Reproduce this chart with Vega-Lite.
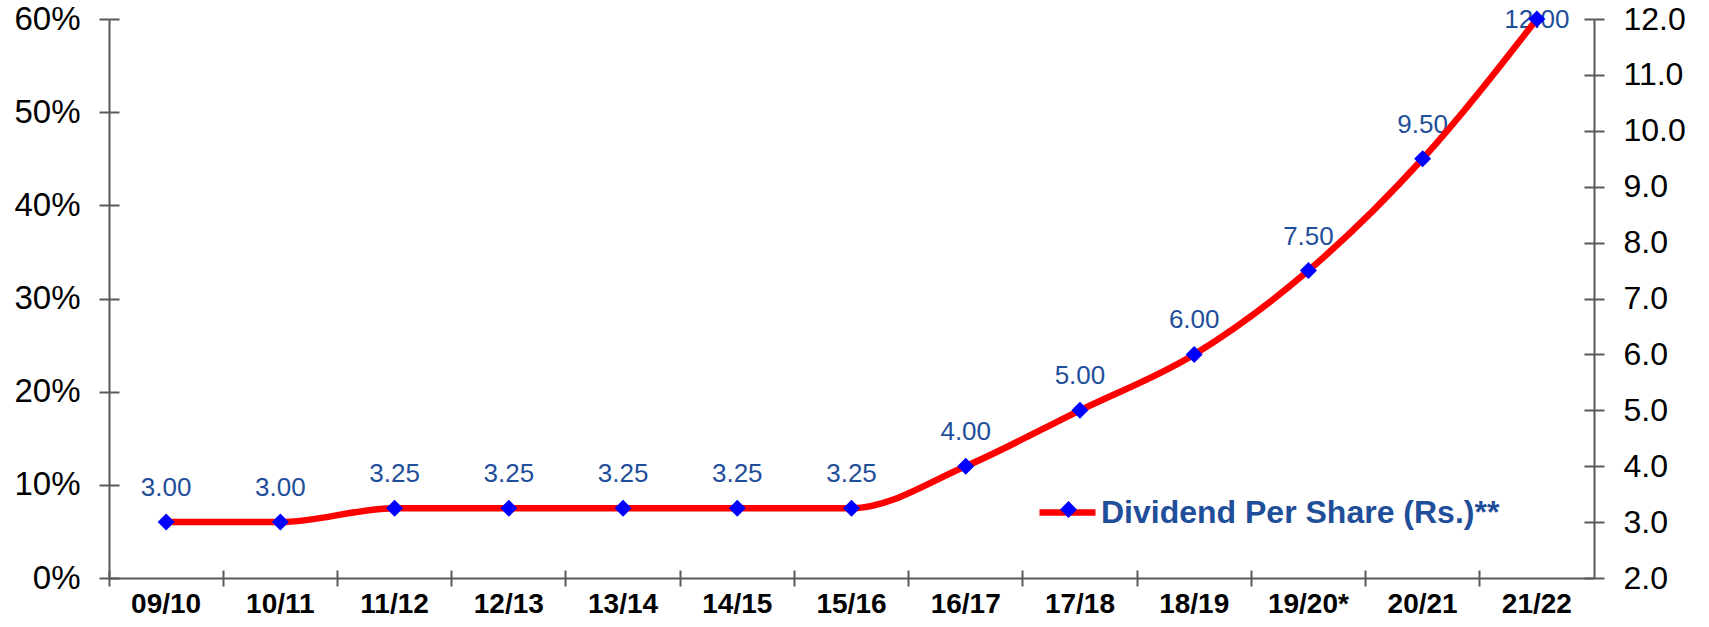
{
  "$schema": "https://vega.github.io/schema/vega-lite/v6.json",
  "autosize": "none",
  "width": 1485,
  "height": 559,
  "padding": {"left": 109, "top": 19, "right": 115, "bottom": 49},
  "background": "white",
  "config": {"view": {"stroke": null}, "font": "Liberation Sans"},
  "data": {
    "values": [
      {"year": "09/10", "dps": 3.00},
      {"year": "10/11", "dps": 3.00},
      {"year": "11/12", "dps": 3.25},
      {"year": "12/13", "dps": 3.25},
      {"year": "13/14", "dps": 3.25},
      {"year": "14/15", "dps": 3.25},
      {"year": "15/16", "dps": 3.25},
      {"year": "16/17", "dps": 4.00},
      {"year": "17/18", "dps": 5.00},
      {"year": "18/19", "dps": 6.00},
      {"year": "19/20*", "dps": 7.50},
      {"year": "20/21", "dps": 9.50},
      {"year": "21/22", "dps": 12.00}
    ]
  },
  "layer": [
    {
      "mark": {"type": "rule", "opacity": 0},
      "encoding": {
        "y": {
          "datum": 0,
          "type": "quantitative",
          "scale": {"domain": [0, 0.6], "nice": false, "zero": false},
          "axis": {
            "orient": "left",
            "title": null,
            "values": [0, 0.1, 0.2, 0.3, 0.4, 0.5, 0.6],
            "format": ".0%",
            "labelFontSize": 33,
            "labelColor": "#000000",
            "labelPadding": 19,
            "tickSize": 10,
            "tickWidth": 2,
            "tickColor": "#595959",
            "domainColor": "#595959",
            "domainWidth": 2,
            "grid": false
          }
        }
      }
    },
    {
      "mark": {"type": "rule", "opacity": 0},
      "encoding": {
        "y": {
          "datum": 0,
          "type": "quantitative",
          "scale": {"domain": [0, 0.6], "nice": false, "zero": false},
          "axis": {
            "orient": "left",
            "title": null,
            "values": [0, 0.1, 0.2, 0.3, 0.4, 0.5, 0.6],
            "labels": false,
            "domain": false,
            "tickSize": -10,
            "tickWidth": 2,
            "tickColor": "#595959",
            "grid": false
          }
        }
      }
    },
    {
      "mark": {"type": "rule", "opacity": 0},
      "encoding": {
        "y": {
          "datum": 2,
          "type": "quantitative",
          "scale": {"domain": [2, 12], "nice": false, "zero": false},
          "axis": {
            "orient": "right",
            "title": null,
            "values": [2, 3, 4, 5, 6, 7, 8, 9, 10, 11, 12],
            "labels": false,
            "domain": false,
            "tickSize": -10,
            "tickWidth": 2,
            "tickColor": "#595959",
            "grid": false
          }
        }
      }
    },
    {
      "mark": {"type": "rule", "opacity": 0},
      "encoding": {
        "x": {
          "field": "year",
          "type": "nominal",
          "sort": null,
          "scale": {"paddingInner": 0, "paddingOuter": 0},
          "axis": {
            "orient": "bottom",
            "title": null,
            "bandPosition": 0,
            "labels": false,
            "domain": false,
            "tickSize": -8,
            "tickWidth": 2,
            "tickColor": "#595959",
            "grid": false
          }
        }
      }
    },
    {
      "encoding": {
        "x": {
          "field": "year",
          "type": "nominal",
          "sort": null,
          "scale": {"paddingInner": 0, "paddingOuter": 0},
          "axis": {
            "orient": "bottom",
            "title": null,
            "labelAngle": 0,
            "bandPosition": 0,
            "labelFontSize": 28,
            "labelFontWeight": "bold",
            "labelColor": "#000000",
            "labelPadding": 4,
            "tickSize": 8,
            "tickWidth": 2,
            "tickColor": "#595959",
            "domainColor": "#595959",
            "domainWidth": 2,
            "grid": false
          }
        },
        "y": {
          "field": "dps",
          "type": "quantitative",
          "scale": {"domain": [2, 12], "nice": false, "zero": false},
          "axis": {
            "orient": "right",
            "title": null,
            "values": [2, 3, 4, 5, 6, 7, 8, 9, 10, 11, 12],
            "format": ".1f",
            "labelFontSize": 32,
            "labelColor": "#000000",
            "labelPadding": 19,
            "tickSize": 10,
            "tickWidth": 2,
            "tickColor": "#595959",
            "domainColor": "#595959",
            "domainWidth": 2,
            "grid": false
          }
        }
      },
      "layer": [
        {
          "transform": [{"filter": "datum.dps < 12"}],
          "mark": {"type": "text", "dy": -34, "fontSize": 26, "color": "#1F4E9A", "baseline": "middle", "align": "center"},
          "encoding": {"text": {"field": "dps", "type": "quantitative", "format": ".2f"}}
        },
        {
          "transform": [{"filter": "datum.dps >= 12"}],
          "mark": {"type": "text", "dy": 1, "fontSize": 26, "color": "#1F4E9A", "baseline": "middle", "align": "center"},
          "encoding": {"text": {"field": "dps", "type": "quantitative", "format": ".2f"}}
        },
        {
          "mark": {"type": "line", "strokeWidth": 6.5, "interpolate": "monotone", "strokeCap": "round", "strokeJoin": "round"},
          "encoding": {
            "color": {
              "datum": "Dividend Per Share (Rs.)**",
              "type": "nominal",
              "scale": {"range": ["#FF0000"]},
              "legend": {
                "title": null,
                "orient": "none",
                "legendX": 927,
                "legendY": 462,
                "padding": 0,
                "symbolType": "stroke",
                "symbolSize": 3136,
                "symbolStrokeWidth": 6.5,
                "symbolStrokeColor": "#FF0000",
                "labelFontSize": 32,
                "labelFontWeight": "bold",
                "labelColor": "#1F4E9A",
                "labelOffset": 2,
                "labelLimit": 0
              }
            }
          }
        },
        {
          "mark": {"type": "point", "filled": true, "size": 289, "color": "#0000FF", "opacity": 1},
          "encoding": {
            "shape": {
              "datum": "DPS",
              "type": "nominal",
              "scale": {"range": ["diamond"]},
              "legend": {
                "title": null,
                "orient": "none",
                "legendX": 951,
                "legendY": 482,
                "padding": 0,
                "symbolSize": 289,
                "symbolFillColor": "#0000FF",
                "symbolStrokeWidth": 0,
                "symbolOpacity": 1,
                "labelExpr": "''",
                "labelFontSize": 1,
                "labelOffset": 0
              }
            }
          }
        }
      ]
    }
  ],
  "resolve": {"scale": {"y": "independent"}, "axis": {"x": "independent"}}
}
